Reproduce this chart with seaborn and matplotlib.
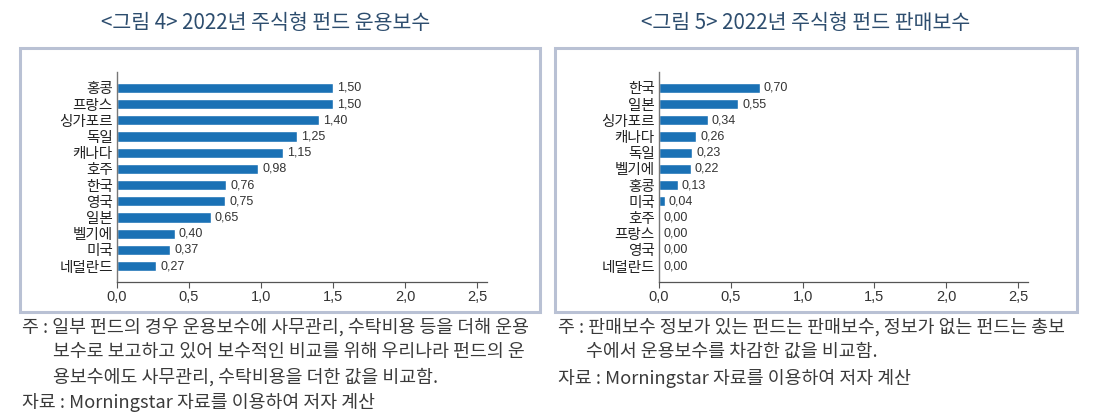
import matplotlib.pyplot as plt
import seaborn as sns
import pandas as pd
from matplotlib.patches import Rectangle

sns.set_theme(style="white")
plt.rcParams['font.family'] = ['Noto Sans CJK KR', 'DejaVu Sans']

# data
mgmt_countries = ["홍콩", "프랑스", "싱가포르", "독일", "캐나다", "호주", "한국", "영국", "일본", "벨기에", "미국", "네덜란드"]
mgmt_fees = [1.50, 1.50, 1.40, 1.25, 1.15, 0.98, 0.76, 0.75, 0.65, 0.40, 0.37, 0.27]

sales_countries = ["한국", "일본", "싱가포르", "캐나다", "독일", "벨기에", "홍콩", "미국", "호주", "프랑스", "영국", "네덜란드"]
sales_fees = [0.70, 0.55, 0.34, 0.26, 0.23, 0.22, 0.13, 0.04, 0.00, 0.00, 0.00, 0.00]

x_ticks = [0.0, 0.5, 1.0, 1.5, 2.0, 2.5]

titles = ["<그림 4> 2022년 주식형 펀드 운용보수", "<그림 5> 2022년 주식형 펀드 판매보수"]
notes_left = [
    "주 : 일부 펀드의 경우 운용보수에 사무관리, 수탁비용 등을 더해 운용",
    "보수로 보고하고 있어 보수적인 비교를 위해 우리나라 펀드의 운",
    "용보수에도 사무관리, 수탁비용을 더한 값을 비교함.",
    "자료 : Morningstar 자료를 이용하여 저자 계산",
]
notes_right = [
    "주 : 판매보수 정보가 있는 펀드는 판매보수, 정보가 없는 펀드는 총보",
    "수에서 운용보수를 차감한 값을 비교함.",
    "자료 : Morningstar 자료를 이용하여 저자 계산",
]

W, H = 1094, 420
fig = plt.figure(figsize=(W / 100, H / 100), dpi=100)
bar_color = "#1a71b5"
num_font = ['Liberation Sans Narrow', 'Liberation Sans', 'DejaVu Sans']


def px_axes(x0, y0, x1, y1):
    return fig.add_axes([x0 / W, 1 - y1 / H, (x1 - x0) / W, (y1 - y0) / H])


def draw_panel(ax, countries, fees):
    df = pd.DataFrame({"country": countries, "fee": fees})
    sns.barplot(data=df, x="fee", y="country", order=countries, color=bar_color,
                width=0.62, saturation=1, ax=ax)
    ax.set_xlim(0, 2.57)
    ax.set_ylim(11.98, -0.98)
    ax.set_xlabel("")
    ax.set_ylabel("")
    ax.set_xticks(x_ticks)
    ax.set_xticklabels([f"{t:.1f}".replace(".", ",") for t in x_ticks],
                       family=num_font, fontsize=10.5, color="#333333")
    ax.tick_params(axis="x", length=4, width=0.8, color="#555555", pad=2, bottom=True)
    ax.tick_params(axis="y", length=0, pad=3, labelsize=10.5, labelcolor="#222222")
    for s in ["top", "right"]:
        ax.spines[s].set_visible(False)
    ax.spines["left"].set_color("#777777")
    ax.spines["left"].set_linewidth(1.0)
    ax.spines["bottom"].set_color("#555555")
    ax.spines["bottom"].set_linewidth(0.9)
    ax.patch.set_alpha(0)
    ax.bar_label(ax.containers[0], labels=[f"{v:.2f}".replace(".", ",") for v in fees],
                 padding=3, fontsize=9, family=num_font, color="#333333")


# boxes around the charts
for (x0, x1) in [(20, 540), (555, 1077)]:
    fig.patches.append(Rectangle((x0 / W, 1 - 312 / H), (x1 - x0) / W, 264 / H,
                                 transform=fig.transFigure, fill=False,
                                 edgecolor="#b9c1d4", linewidth=2.2))

ax1 = px_axes(117, 72, 487, 282)
draw_panel(ax1, mgmt_countries, mgmt_fees)
ax2 = px_axes(659, 72, 1028, 282)
draw_panel(ax2, sales_countries, sales_fees)

# titles
fig.text(266 / W, 1 - 23 / H, titles[0], ha="center", va="center", fontsize=14.8, color="#2d4d6e")
fig.text(806 / W, 1 - 23 / H, titles[1], ha="center", va="center", fontsize=14.8, color="#2d4d6e")

# notes
note_kw = dict(fontsize=13.2, color="#3a3a3a", va="center", ha="left")
fig.text(22 / W, 1 - 327 / H, notes_left[0], **note_kw)
fig.text(53 / W, 1 - 352 / H, notes_left[1], **note_kw)
fig.text(53 / W, 1 - 377 / H, notes_left[2], **note_kw)
fig.text(22 / W, 1 - 402 / H, notes_left[3], **note_kw)

fig.text(558 / W, 1 - 327 / H, notes_right[0], **note_kw)
fig.text(586 / W, 1 - 352 / H, notes_right[1], **note_kw)
fig.text(558 / W, 1 - 379 / H, notes_right[2], **note_kw)

fig.savefig("out.png", dpi=100)
